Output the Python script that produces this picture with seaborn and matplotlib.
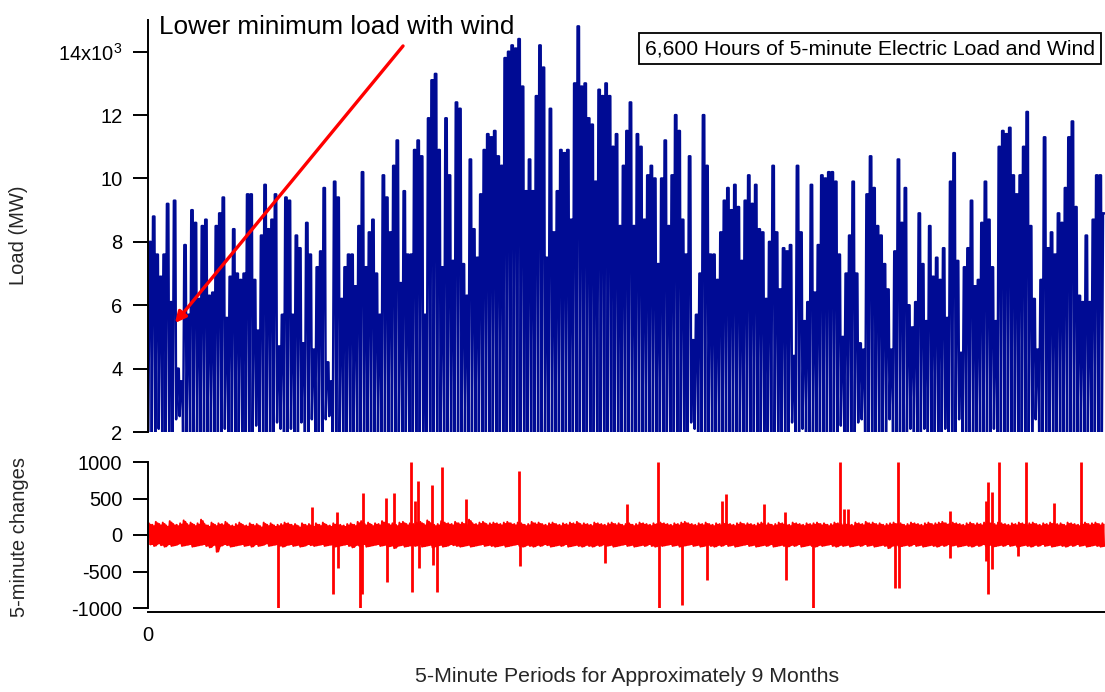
import matplotlib
matplotlib.use("Agg")
import matplotlib.pyplot as plt
import numpy as np
import pandas as pd
import seaborn as sns

# Daily peak of the net load (thousand MW), one value per day
daily_peak_k = [
    8.0, 8.8, 7.6, 6.9, 7.6, 9.2, 6.1, 9.3, 4.0, 3.6, 7.9, 5.7, 9.0, 8.6, 6.2, 8.5,
    8.7, 6.3, 6.4, 8.5, 8.9, 9.4, 5.6, 6.9, 8.4, 7.0, 6.8, 7.0, 9.5, 9.5, 6.8, 5.2,
    8.2, 9.8, 8.4, 8.7, 9.5, 4.7, 5.7, 9.4, 9.3, 5.7, 8.2, 7.8, 4.8, 8.6, 7.6,
    4.6, 7.2, 7.7, 9.7, 4.2, 3.6, 9.9, 9.4, 6.2, 7.2, 7.6, 7.6, 6.6, 8.5, 10.2, 7.2,
    8.3, 8.7, 7.0, 5.7, 10.1, 9.4, 8.3, 10.4, 11.2, 6.7, 9.6, 7.6, 7.6, 10.9, 11.2,
    10.7, 5.7, 11.9, 13.1, 13.3, 10.9, 7.2, 11.9, 10.1, 7.4, 12.4, 12.2, 7.3, 6.3, 10.6,
    8.4, 7.5, 9.5, 10.9, 11.4, 11.3, 11.5, 10.7, 10.4, 13.8, 14.0, 14.2, 14.1, 14.4,
    12.9, 9.6, 10.6, 9.6, 12.6, 14.2, 13.5, 7.5, 12.2, 8.3, 9.6, 10.9, 10.8, 10.9,
    8.7, 13.0, 14.8, 12.9, 13.0, 11.9, 11.7, 9.9, 12.8, 12.6, 13.0, 12.6, 11.0, 11.4,
    8.5, 10.4, 11.5, 12.4,
    8.5, 11.4, 11.0, 8.7, 10.1, 10.4, 10.0, 7.3, 10.0, 11.2, 8.5, 10.1, 12.0, 11.5,
    8.7, 7.6, 10.7, 4.9, 5.7, 7.0, 12.0, 10.4, 7.6, 7.6, 6.8, 8.3, 9.3, 9.7, 9.0, 9.8,
    9.1, 7.4, 9.3, 10.1, 9.2, 9.8, 8.4, 8.3, 6.2, 8.0, 10.4, 8.3, 6.5, 7.8, 7.7, 7.9,
    4.4, 10.4, 8.3, 5.5, 6.1, 9.8, 6.4, 7.9, 10.1, 10.0, 10.2, 10.2, 9.9, 7.6, 5.0,
    7.0, 8.2, 9.9, 7.0, 4.8, 4.6, 9.5, 10.7, 9.7, 8.5, 8.2, 7.3, 6.5, 4.6, 7.7, 10.6,
    8.6, 9.7, 6.0, 5.3, 6.1, 8.9, 7.3, 5.5, 8.5, 6.9, 7.5, 6.8, 7.8, 5.6,
    9.9, 10.8, 7.4, 4.5, 7.2, 7.8, 9.3, 6.6, 6.8, 8.6, 9.9, 8.7, 7.2, 5.5, 11.0, 11.5,
    11.4, 11.6, 10.1, 9.5, 10.1, 11.0, 12.1, 8.5, 6.2, 4.6, 6.8, 11.3, 7.8, 8.3, 7.6,
    8.9, 8.6, 9.7, 11.3, 11.8, 9.1, 6.3, 6.1, 8.2, 6.1, 8.7, 10.1, 10.1, 8.9,
]

# Daily minimum of the net load (thousand MW)
daily_min_k = [
    1.8, 1.6, 1.9, 2.1, 1.7, 1.5, 2.0, 1.6, 2.4, 2.5, 1.7, 2.0, 1.5, 1.6, 1.9, 1.6, 1.5, 1.9, 2.0, 1.6, 1.5, 1.4, 2.1,
    1.8, 1.6, 1.8, 1.9, 1.8, 1.4, 1.4, 1.9, 2.2, 1.6, 1.3, 1.6, 1.5, 1.4, 2.3, 2.1, 1.4, 1.5, 2.1, 1.6, 1.7, 2.3, 1.6,
    1.7, 2.4, 1.8, 1.7, 1.4, 2.4, 2.5, 1.3, 1.4, 1.9, 1.8, 1.7, 1.7, 1.9, 1.6, 1.3, 1.8, 1.6, 1.5, 1.8, 2.0, 1.3, 1.4,
    1.6, 1.3, 1.2, 1.9, 1.4, 1.7, 1.7, 1.3, 1.2, 1.3, 2.0, 1.2, 1.1, 1.0, 1.3, 1.8, 1.2, 1.3, 1.8, 1.1, 1.1, 1.8, 1.9,
    1.3, 1.6, 1.8, 1.4, 1.3, 1.2, 1.2, 1.2, 1.3, 1.3, 1.0, 1.0, 0.9, 1.0, 0.9, 1.1, 1.4, 1.3, 1.4, 1.1, 0.9, 1.0, 1.8,
    1.1, 1.6, 1.4, 1.3, 1.3, 1.3, 1.6, 1.0, 0.9, 1.1, 1.0, 1.2, 1.2, 1.4, 1.1, 1.1, 1.0, 1.1, 1.2, 1.2, 1.6, 1.3, 1.2,
    1.1, 1.6, 1.2, 1.2, 1.5, 1.3, 1.3, 1.3, 1.7, 1.3, 1.2, 1.6, 1.3, 1.1, 1.2, 1.5, 1.7, 1.3, 2.3, 2.1, 1.8, 1.1, 1.3,
    1.7, 1.7, 1.8, 1.6, 1.4, 1.4, 1.5, 1.4, 1.5, 1.7, 1.4, 1.3, 1.4, 1.4, 1.6, 1.6, 1.9, 1.6, 1.3, 1.6, 1.8, 1.7, 1.7,
    1.7, 2.3, 1.3, 1.6, 2.1, 2.0, 1.4, 1.9, 1.6, 1.3, 1.3, 1.3, 1.3, 1.4, 1.7, 2.2, 1.8, 1.6, 1.4, 1.8, 2.3, 2.4, 1.4,
    1.3, 1.4, 1.6, 1.6, 1.7, 1.9, 2.4, 1.7, 1.3, 1.6, 1.4, 2.0, 2.1, 2.0, 1.5, 1.7, 2.1, 1.6, 1.8, 1.7, 1.8, 1.7, 2.1,
    1.4, 1.3, 1.7, 2.4, 1.8, 1.7, 1.5, 1.9, 1.8, 1.6, 1.4, 1.6, 1.8, 2.1, 1.3, 1.2, 1.3, 1.2, 1.4, 1.5, 1.4, 1.3, 1.2,
    1.6, 2.0, 2.4, 1.9, 1.3, 1.7, 1.6, 1.7, 1.5, 1.6, 1.4, 1.3, 1.2, 1.5, 1.9, 2.0, 1.6, 2.0, 1.6, 1.4, 1.4, 1.5,
]

# Largest upward and downward 5-minute change within each day (MW)
change_hi = [
    160, 140, 180, 150, 170, 130, 190, 150, 140, 160, 200, 150, 170, 140, 160, 210, 150, 130, 170, 140, 160, 150, 180, 140, 130,
    150, 170, 140, 130, 160, 140, 150, 120, 170, 140, 160, 130, 140, 150, 170, 160, 140, 150, 120, 160, 140, 150, 130, 160, 140,
    170, 140, 130, 160, 150, 140, 130, 150, 160, 140, 180, 190, 150, 170, 140, 160, 150, 190, 170, 150, 160, 140, 170, 180, 150,
    160, 150, 170, 180, 150, 200, 160, 140, 150, 190, 170, 160, 150, 180, 160, 170, 150, 210, 160, 150, 170, 180, 150, 160, 170,
    160, 150, 170, 180, 160, 150, 170, 160, 140, 150, 180, 160, 170, 150, 140, 160, 170, 150, 140, 160, 150, 170, 160, 180, 150,
    160, 150, 140, 170, 160, 150, 140, 160, 170, 150, 160, 140, 150, 160, 140, 150, 170, 160, 150, 140, 160, 150, 170, 160, 150,
    140, 160, 150, 170, 180, 160, 150, 140, 160, 150, 170, 150, 140, 160, 150, 170, 160, 150, 140, 160, 170, 150, 160, 150, 140,
    160, 170, 150, 160, 140, 150, 170, 160, 150, 140, 170, 160, 150, 140, 160, 150, 160, 170, 150, 160, 140, 150, 170, 160, 150,
    160, 150, 140, 170, 160, 150, 180, 160, 170, 150, 160, 140, 150, 160, 170, 150, 160, 140, 150, 170, 160, 150, 140, 160, 170,
    150, 160, 170, 180, 160, 150, 170, 160, 150, 140, 160, 170, 150, 160, 150, 170, 180, 160, 150, 170, 160, 150, 140, 160, 150,
    170, 160, 150, 160, 170, 150, 140, 160, 150, 170, 160, 150, 160, 140, 170, 160, 150, 140, 160, 170, 150, 160, 170, 150, 160,
]
change_lo = [
    -130, -150, -120, -140, -160, -130, -150, -140, -120, -150, -140, -130, -160, -150, -140, -130, -150, -170, -140, -230, -150, -130, -140, -160, -150,
    -140, -130, -150, -140, -160, -130, -150, -140, -120, -150, -140, -130, -150, -160, -140, -130, -150, -140, -160, -150, -130, -140, -150, -140, -130,
    -150, -140, -130, -160, -150, -140, -130, -150, -170, -140, -150, -130, -160, -150, -140, -130, -150, -140, -160, -150, -180, -150, -140, -160, -150,
    -140, -150, -130, -160, -150, -140, -170, -150, -140, -160, -150, -130, -140, -150, -160, -150, -140, -160, -150, -140, -130, -150, -140, -150, -160,
    -150, -140, -160, -150, -140, -130, -150, -160, -140, -150, -160, -140, -150, -130, -140, -160, -150, -140, -150, -130, -160, -150, -140, -150, -160,
    -140, -150, -160, -140, -150, -130, -150, -140, -160, -150, -140, -130, -150, -140, -160, -150, -140, -150, -130, -150, -160, -140, -150, -140, -130,
    -150, -140, -160, -150, -140, -130, -150, -140, -160, -150, -140, -150, -160, -140, -150, -130, -150, -140, -160, -150, -140, -130, -150, -140, -160,
    -150, -140, -150, -130, -160, -150, -140, -150, -160, -140, -150, -130, -160, -150, -140, -150, -160, -140, -150, -140, -130, -150, -160, -140, -150,
    -140, -160, -150, -140, -150, -130, -150, -140, -160, -150, -140, -150, -180, -150, -140, -160, -150, -140, -150, -130, -150, -140, -160, -150, -140,
    -150, -160, -140, -150, -130, -150, -140, -160, -150, -140, -150, -160, -140, -150, -130, -150, -140, -160, -150, -140, -150, -130, -150, -140, -160,
    -150, -140, -150, -160, -140, -150, -130, -150, -140, -160, -150, -140, -150, -160, -140, -150, -130, -150, -140, -160, -150, -140, -150, -160, -150,
]

# Isolated large 5-minute jumps: day of occurrence and size (MW)
jump_day = [37.4, 47.1, 53.2, 54.3, 54.5, 60.9, 61.5, 61.8, 68.4, 68.6, 70.7, 75.6, 75.8,
            76.7, 77.6, 77.8, 81.6, 81.8, 83.0, 84.5, 91.4, 106.6, 106.8, 131.3, 137.6,
            146.6, 146.8, 153.4, 160.6, 164.9, 166.1, 177.0, 183.1, 183.3, 191.1, 198.9,
            200.0, 201.1, 214.7, 215.5, 215.7, 230.4, 230.6, 240.8, 240.9, 241.4, 241.5,
            242.5, 242.6, 244.5, 250.0, 252.3, 260.3, 268.1]
jump_mw = [-1000, 390, -810, 320, -450, -1000, -810, 580, 510, -650, 580, 1000, -780,
           460, 740, -450, 680, -410, -780, 930, 500, 880, -420, -390, 420,
           1000, -1000, -960, -620, 460, 560, 420, 310, -620, -1000, 1000,
           360, 360, -730, 1000, -730, 330, -310, 460, -360, 720, -810,
           590, -460, 1000, -290, 1000, 440, 1000]

y_ticks = [2000, 4000, 6000, 8000, 10000, 12000, 14000]
y_tick_labels = ["2", "4", "6", "8", "10", "12", r"14x10$^{3}$"]
chg_ticks = [-1000, -500, 0, 500, 1000]
chg_tick_labels = ["-1000", "-500", "0", "500", "1000"]

PER_DAY = 288  # 5-minute periods per day
n_days = len(daily_peak_k)
n_periods = n_days * PER_DAY

# Load trace: each day starts at its overnight minimum, climbs to its peak,
# holds it through the working hours and falls back towards midnight
load_t, load_v = [], []
for d, (lo, pk) in enumerate(zip(daily_min_k, daily_peak_k)):
    base = d * PER_DAY
    load_t += [base + 24, base + 125, base + 245]
    load_v += [lo * 1000.0, pk * 1000.0, pk * 1000.0]
load_df = pd.DataFrame({"period": load_t, "load": load_v})

# 5-minute change trace alternating between each day's largest rise and drop
chg_t, chg_v = [], []
for d, (hi, lo) in enumerate(zip(change_hi, change_lo)):
    chg_t += [d * PER_DAY + 72, d * PER_DAY + 216]
    chg_v += [hi, lo]
chg_df = pd.DataFrame({"period": chg_t, "change": chg_v})
jump_t = np.array(jump_day) * PER_DAY

sns.set_style("white")
plt.rcParams["font.family"] = ["Liberation Sans", "DejaVu Sans"]
plt.rcParams["mathtext.fontset"] = "custom"
plt.rcParams["mathtext.rm"] = "Liberation Sans"
plt.rcParams["mathtext.it"] = "Liberation Sans"
plt.rcParams["mathtext.default"] = "regular"
plt.rcParams["axes.linewidth"] = 1.4
plt.rcParams["path.simplify"] = False

BLUE = "#000b94"
RED = "#ff0000"
FS = 14.5

W, H = 1105, 692
fig = plt.figure(figsize=(W / 100, H / 100), dpi=100)
ax1 = fig.add_axes([148 / W, 260 / H, 957 / W, 412 / H])
ax2 = fig.add_axes([148 / W, 84 / H, 957 / W, 146 / H])

# --- load panel ---
sns.lineplot(data=load_df, x="period", y="load", ax=ax1, color=BLUE,
             linewidth=1.75, estimator=None, sort=False)
ax1.set_xlim(0, n_periods)
ax1.set_ylim(2000, 15000)
ax1.set_yticks(y_ticks)
ax1.set_yticklabels(y_tick_labels)
ax1.set_xticks([])
ax1.set_xlabel("")
ax1.set_ylabel("Load (MW)", fontsize=FS)
ax1.yaxis.label.set_va("center")
ax1.yaxis.set_label_coords(-0.1358, 0.478)
for s in ("top", "right", "bottom"):
    ax1.spines[s].set_visible(False)
ax1.spines["left"].set_color("black")
ax1.tick_params(axis="y", direction="out", length=11, width=1.4, pad=7.5,
                labelsize=FS, colors="black", left=True)

ax1.annotate("", xy=(0.0282, 0.2646), xycoords="axes fraction",
             xytext=(0.2665, 0.937), textcoords="axes fraction",
             arrowprops=dict(arrowstyle="-|>", color=RED, lw=2.4,
                             mutation_scale=16, shrinkA=0, shrinkB=0))
ax1.text(0.0115, 0.9667, "Lower minimum load with wind", transform=ax1.transAxes,
         fontsize=18.8, ha="left", va="baseline", color="black")
ax1.text(0.7544, 0.9308, "6,600 Hours of 5-minute Electric Load and Wind",
         transform=ax1.transAxes, fontsize=15.2, ha="center", va="center",
         color="black",
         bbox=dict(boxstyle="square,pad=0.3", facecolor="white",
                   edgecolor="black", linewidth=1.3))

# --- 5-minute change panel ---
ax2.fill_between(chg_df["period"], chg_df["change"].where(chg_df["change"] > 0).ffill().bfill(),
                 chg_df["change"].where(chg_df["change"] < 0).ffill().bfill(),
                 color=RED, linewidth=0)
sns.lineplot(data=chg_df, x="period", y="change", ax=ax2, color=RED,
             linewidth=1.4, estimator=None, sort=False)
ax2.vlines(jump_t, 0, jump_mw, color=RED, linewidth=2.0)
ax2.set_xlim(0, n_periods)
ax2.set_ylim(-1000, 1000)
ax2.set_yticks(chg_ticks)
ax2.set_yticklabels(chg_tick_labels)
ax2.set_xticks([0])
ax2.set_xticklabels(["0"])
ax2.set_ylabel("5-minute changes", fontsize=FS)
ax2.yaxis.label.set_va("center")
ax2.yaxis.set_label_coords(-0.1338, 0.483)
ax2.set_xlabel("5-Minute Periods for Approximately 9 Months", fontsize=15.3)
ax2.xaxis.set_label_coords(0.5005, -0.4726)
ax2.xaxis.label.set_va("center")
for s in ("top", "right"):
    ax2.spines[s].set_visible(False)
ax2.spines["bottom"].set_position(("outward", 3))
ax2.spines["left"].set_color("black")
ax2.spines["bottom"].set_color("black")
ax2.tick_params(axis="y", direction="out", length=11, width=1.4, pad=7.5,
                labelsize=FS, colors="black", left=True)
ax2.tick_params(axis="x", length=0, pad=10, labelsize=FS, colors="black",
                bottom=True)

fig.savefig("out.png", dpi=100)
